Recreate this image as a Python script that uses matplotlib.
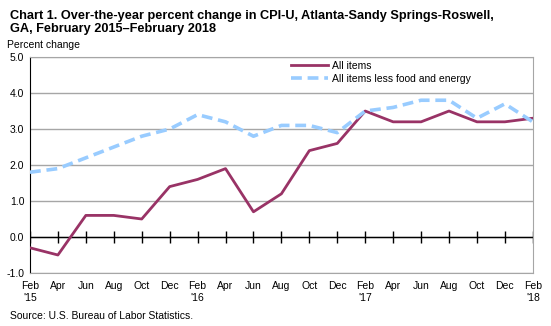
import matplotlib.pyplot as plt
import numpy as np

plt.rcParams['font.family'] = ['Liberation Sans', 'DejaVu Sans']

# bimonthly, Feb 2015 - Feb 2018
months = ['Feb', 'Apr', 'Jun', 'Aug', 'Oct', 'Dec'] * 3 + ['Feb']
years = {0: "'15", 6: "'16", 12: "'17", 18: "'18"}
all_items = [-0.3, -0.5, 0.6, 0.6, 0.5, 1.4, 1.6, 1.9, 0.7, 1.2, 2.4, 2.6,
             3.5, 3.2, 3.2, 3.5, 3.2, 3.2, 3.3]
core = [1.8, 1.9, 2.2, 2.5, 2.8, 3.0, 3.4, 3.2, 2.8, 3.1, 3.1, 2.9,
        3.5, 3.6, 3.8, 3.8, 3.3, 3.7, 3.2]

x = np.arange(len(months))
labels = [m + ('\n' + years[i] if i in years else '') for i, m in enumerate(months)]

fig = plt.figure(figsize=(5.51, 3.26), dpi=100)
ax = fig.add_axes([0.0544, 0.1626, 0.9126, 0.6624])

ax.plot(x, all_items, color='#993366', lw=2, label='All items', zorder=3)
ax.plot(x, core, color='#99CCFF', lw=2.6, ls=(0, (3, 1.6)),
        label='All items less food and energy', zorder=3)

# zero line with tick marks
ax.axhline(0, color='black', lw=1, zorder=2)
ax.plot(x, np.zeros(len(x)), ls='', marker='|', ms=8, mew=1, color='black', zorder=2)

ax.set_xlim(0, len(x) - 1)
ax.set_ylim(-1, 5)
ax.set_yticks(np.arange(-1, 5.1, 1))
ax.set_yticklabels([f'{v:.1f}' for v in np.arange(-1, 5.1, 1)], fontsize=7.5)
ax.set_xticks(x)
ax.set_xticklabels(labels, fontsize=7.5, linespacing=1.25)
ax.tick_params(axis='both', length=0, pad=4)
ax.tick_params(axis='x', pad=6)
ax.grid(axis='y', color='#a6a6a6', lw=1)
ax.set_axisbelow(True)
for s in ['top', 'right', 'bottom']:
    ax.spines[s].set_color('#a6a6a6')
ax.spines['left'].set_color('black')

ax.legend(loc='upper left', bbox_to_anchor=(0.5, 1.025), frameon=False,
          fontsize=7.5, handlelength=3.6, labelspacing=0.25, handletextpad=0.4)

fig.text(0.018, 0.968, 'Chart 1. Over-the-year percent change in CPI-U, Atlanta-Sandy Springs-Roswell,\n'
         'GA, February 2015\u2013February 2018', fontsize=9.2, fontweight='bold',
         va='top', ha='left', linespacing=1.08)
fig.text(0.013, 0.848, 'Percent change', fontsize=7.5, va='bottom', ha='left')
fig.text(0.018, 0.015, 'Source: U.S. Bureau of Labor Statistics.', fontsize=7.5, va='bottom', ha='left')

fig.savefig('out.png', dpi=100)
